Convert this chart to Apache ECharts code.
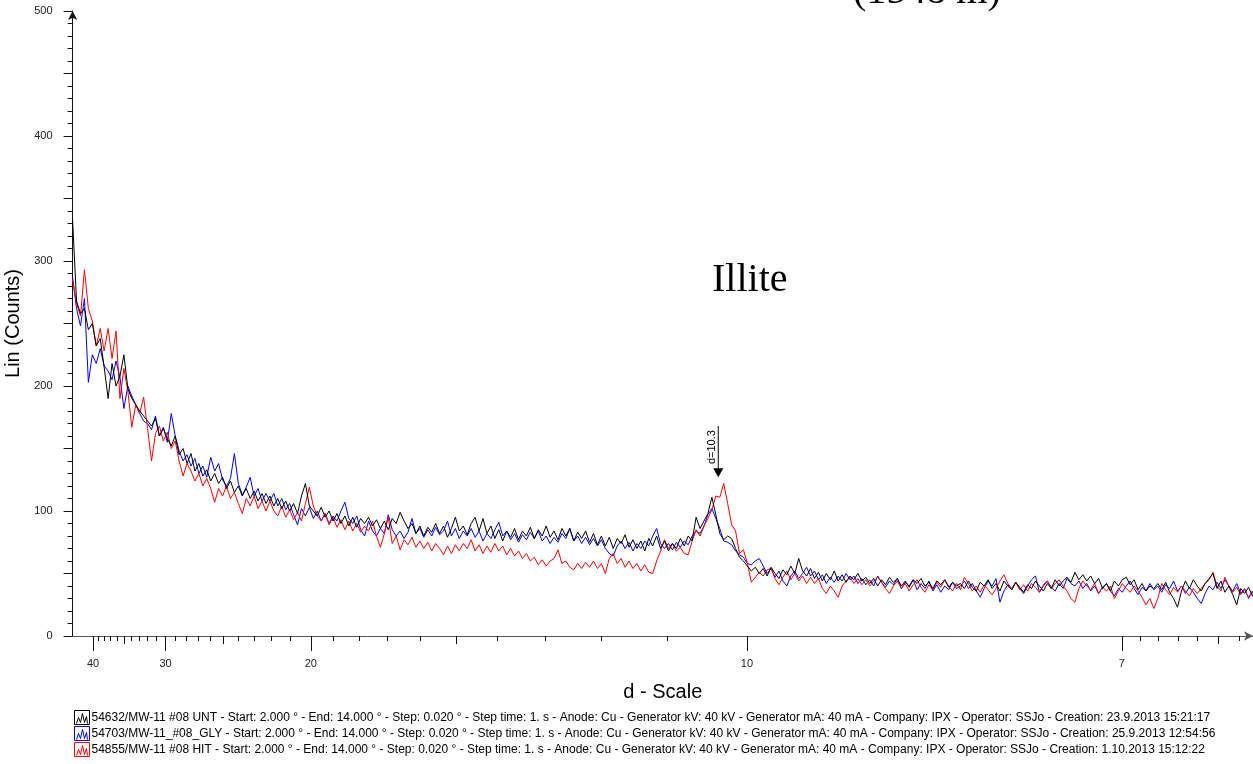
<!DOCTYPE html>
<html>
<head>
<meta charset="utf-8">
<script src="https://cdn.jsdelivr.net/npm/echarts@6/dist/echarts.min.js"></script>
<style>
html, body { margin: 0; padding: 0; background: #fff; }
#xrd { width: 1253px; height: 764px; }
</style>
</head>
<body>
<div id="xrd"></div>
<script>
// scan: 2theta from 2.000, values read every 0.04 deg
const START = 2.0, STEP = 0.04, LAMBDA = 1.5406;

// d-scale ticks (Angstrom)
const majorD = [40, 30, 20, 10, 7];
const mediumD = [35, 25, 15, 6.5];
const minorD = [39, 38, 37, 36, 34, 33, 32, 31, 29, 28, 27, 26, 24, 23, 22, 21,
    19, 18, 17, 16, 14, 13, 12, 11, 6.9, 6.8, 6.7, 6.6, 6.4];

// marked peak (label shows one decimal)
const peakD = 10.34;

const unt = [
    333, 268, 258, 262, 245, 250, 232, 238, 215, 190, 218, 200, 208, 225, 198, 190, 185, 180, 176, 172, 168, 174, 160, 166, 158,
    152, 160, 145, 150, 138, 146, 132, 138, 128, 133, 124, 130, 122, 127, 118, 124, 115, 120, 112, 118, 110, 116, 108, 114, 106,
    112, 104, 110, 102, 108, 100, 106, 98, 112, 122, 104, 100, 96, 103, 95, 100, 92, 98, 90, 96, 88, 95, 87, 94, 90,
    95, 88, 93, 86, 92, 85, 94, 90, 99, 92, 86, 90, 82, 88, 80, 87, 83, 90, 82, 88, 79, 86, 95, 84, 88,
    81, 90, 95, 84, 94, 82, 88, 78, 85, 76, 84, 79, 86, 77, 84, 80, 87, 78, 85, 80, 88, 79, 84, 77, 86,
    80, 86, 76, 83, 78, 84, 75, 82, 73, 80, 72, 79, 70, 78, 74, 81, 71, 77, 70, 76, 68, 78, 72, 80, 70,
    76, 68, 74, 70, 78, 72, 80, 76, 95, 86, 92, 98, 111, 97, 82, 77, 80, 78, 70, 63, 60, 56, 52, 55, 50,
    54, 48, 55, 50, 46, 53, 49, 56, 50, 62, 52, 48, 54, 46, 51, 44, 50, 45, 52, 44, 49, 43, 48, 45, 50,
    44, 47, 42, 46, 40, 45, 41, 47, 43, 46, 40, 44, 39, 45, 42, 46, 40, 43, 38, 44, 41, 45, 39, 43, 40,
    42, 38, 44, 39, 36, 43, 40, 45, 38, 42, 36, 44, 40, 37, 43, 39, 35, 41, 38, 44, 40, 36, 42, 38, 45,
    40, 44, 47, 43, 51, 45, 49, 44, 48, 42, 46, 38, 42, 36, 44, 40, 45, 47, 41, 45, 37, 42, 36, 40, 38,
    42, 37, 43, 35, 30, 23, 36, 44, 38, 45, 40, 36, 42, 46, 50, 38, 44, 35, 40, 33, 25, 38, 34, 39, 32,
    35
];
const gly = [
    287, 262, 248, 270, 203, 225, 218, 230, 216, 212, 205, 220, 207, 182, 200, 192, 185, 178, 172, 170, 165, 176, 160, 167, 155,
    178, 160, 148, 140, 145, 136, 142, 130, 136, 127, 143, 132, 138, 125, 120, 126, 146, 122, 113, 119, 127, 112, 118, 108, 114,
    108, 114, 104, 110, 101, 106, 97, 89, 102, 96, 103, 94, 100, 92, 98, 90, 96, 92, 100, 107, 94, 90, 96, 85, 80,
    92, 84, 80, 86, 82, 97, 85, 80, 84, 78, 83, 94, 82, 86, 79, 85, 80, 87, 81, 84, 92, 80, 86, 78, 84,
    80, 86, 79, 84, 76, 82, 78, 85, 91, 80, 84, 77, 82, 75, 81, 77, 83, 78, 84, 76, 80, 74, 79, 75, 82,
    78, 86, 76, 80, 74, 79, 73, 78, 72, 77, 70, 66, 64, 72, 76, 70, 75, 68, 74, 70, 76, 72, 80, 86, 74,
    70, 74, 69, 75, 71, 76, 73, 80, 84, 82, 88, 97, 102, 94, 86, 76, 75, 73, 68, 65, 63, 58, 57, 60, 62,
    56, 50, 54, 47, 52, 44, 40, 48, 52, 46, 50, 55, 48, 52, 45, 49, 42, 47, 43, 48, 44, 50, 45, 48, 42,
    46, 41, 45, 40, 48, 43, 39, 44, 41, 46, 38, 43, 40, 45, 37, 42, 38, 44, 36, 41, 35, 40, 37, 43, 38,
    40, 44, 38, 42, 36, 31, 38, 44, 40, 46, 27, 36, 41, 37, 43, 38, 34, 40, 45, 48, 35, 40, 44, 39, 36,
    42, 38, 46, 42, 40, 44, 38, 42, 36, 40, 34, 39, 42, 36, 32, 38, 35, 40, 44, 38, 33, 39, 36, 42, 37,
    40, 35, 41, 38, 44, 36, 40, 34, 39, 35, 30, 26, 34, 40, 37, 43, 38, 45, 40, 36, 42, 34, 38, 30, 36,
    21
];
const hit = [
    285, 266, 256, 293, 262, 252, 232, 246, 228, 246, 222, 244, 190, 214, 196, 167, 185, 178, 191, 166, 140, 162, 168, 156, 163,
    150, 156, 140, 128, 138, 132, 124, 130, 120, 126, 118, 107, 118, 112, 120, 110, 115, 106, 98, 110, 104, 112, 102, 108, 100,
    108, 100, 96, 104, 95, 101, 93, 99, 92, 106, 119, 104, 96, 92, 98, 89, 95, 87, 93, 85, 92, 84, 90, 83, 88,
    84, 92, 80, 71, 82, 95, 74, 80, 69, 77, 73, 79, 71, 76, 70, 75, 68, 74, 70, 65, 72, 66, 73, 68, 74,
    70, 77, 68, 73, 66, 72, 67, 74, 68, 72, 65, 70, 64, 68, 62, 66, 60, 63, 57, 61, 56, 60, 62, 69, 58,
    60, 55, 53, 58, 54, 59, 55, 60, 54, 58, 50, 62, 66, 58, 62, 55, 60, 54, 58, 52, 57, 51, 50, 60, 68,
    77, 70, 74, 68, 71, 66, 65, 76, 85, 80, 88, 94, 101, 112, 111, 122, 106, 89, 84, 66, 69, 58, 43, 47, 51,
    48, 53, 54, 46, 41, 47, 52, 45, 50, 44, 48, 42, 47, 42, 46, 38, 34, 40, 36, 31, 40, 44, 47, 42, 46,
    41, 45, 40, 44, 47, 43, 38, 34, 40, 44, 38, 42, 36, 41, 45, 39, 35, 41, 37, 43, 39, 45, 40, 36, 42,
    37, 47, 42, 36, 40, 35, 41, 37, 33, 38, 44, 49, 42, 38, 43, 37, 41, 36, 42, 39, 35, 41, 44, 38, 42,
    45, 40, 36, 30, 27, 38, 44, 40, 37, 42, 34, 39, 36, 40, 30, 36, 42, 38, 35, 40, 36, 31, 25, 30, 22,
    30, 42, 37, 33, 39, 35, 40, 36, 32, 38, 34, 38, 42, 45, 51, 40, 36, 47, 40, 35, 39, 33, 37, 31, 36,
    32
];

const names = [
    '54632/MW-11 #08 UNT - Start: 2.000 ° - End: 14.000 ° - Step: 0.020 ° - Step time: 1. s - Anode: Cu - Generator kV: 40 kV - Generator mA: 40 mA - Company: IPX - Operator: SSJo - Creation: 23.9.2013 15:21:17',
    '54703/MW-11_#08_GLY - Start: 2.000 ° - End: 14.000 ° - Step: 0.020 ° - Step time: 1. s - Anode: Cu - Generator kV: 40 kV - Generator mA: 40 mA - Company: IPX - Operator: SSJo - Creation: 25.9.2013 12:54:56',
    '54855/MW-11 #08 HIT - Start: 2.000 ° - End: 14.000 ° - Step: 0.020 ° - Step time: 1. s - Anode: Cu - Generator kV: 40 kV - Generator mA: 40 mA - Company: IPX - Operator: SSJo - Creation: 1.10.2013 15:12:22'
];
const colors = ['#000000', '#0000ff', '#ff0000'];

const FONT = 'Liberation Sans, Arial, sans-serif';
const SERIF = 'Liberation Serif, Times New Roman, serif';

// Bragg: d <-> 2theta
function twoTheta(d) { return 2 * Math.asin(LAMBDA / (2 * d)) * 180 / Math.PI; }
function dOf(tt) { return LAMBDA / (2 * Math.sin(tt * Math.PI / 360)); }
function toPairs(vals) { return vals.map((v, i) => [START + i * STEP, v]); }

function tickAxis(ds, len, main) {
    return {
        type: 'value',
        gridIndex: 0,
        position: 'bottom',
        min: 2,
        max: 13.965,
        name: main ? 'd - Scale' : '',
        nameLocation: 'middle',
        nameGap: 46,
        nameTextStyle: { fontSize: 20, color: '#000', fontFamily: FONT },
        axisLine: {
            show: main,
            symbol: ['none', 'arrow'],
            symbolSize: [7, 9],
            lineStyle: { color: '#555', width: 1 }
        },
        axisTick: {
            show: true,
            length: len,
            customValues: ds.map(twoTheta),
            lineStyle: { color: '#111', width: 1 }
        },
        axisLabel: {
            show: main,
            customValues: ds.map(twoTheta),
            formatter: v => String(Math.round(dOf(v))),
            margin: 22,
            fontSize: 11,
            color: '#222',
            fontFamily: FONT
        },
        splitLine: { show: false }
    };
}

let chart = echarts.init(document.getElementById('xrd'));

let option = {
    animation: false,
    backgroundColor: '#fff',
    grid: { left: 72.6, right: 0, top: 11, bottom: 128, outerBoundsMode: 'none', containLabel: false },
    xAxis: [
        tickAxis(majorD, 15, true),
        tickAxis(mediumD, 8, false),
        tickAxis(minorD, 5, false)
    ],
    yAxis: {
        type: 'value',
        min: 0,
        max: 500,
        interval: 50,
        name: 'Lin (Counts)',
        nameLocation: 'middle',
        nameGap: 36,
        nameTextStyle: { fontSize: 20, color: '#000', fontFamily: FONT },
        axisLine: {
            show: true,
            symbol: ['none', 'arrow'],
            symbolSize: [7, 9],
            lineStyle: { color: '#111', width: 1 }
        },
        axisTick: { show: true, length: 9, lineStyle: { color: '#111' } },
        minorTick: { show: true, splitNumber: 5, length: 5, lineStyle: { color: '#111' } },
        axisLabel: {
            margin: 20,
            fontSize: 11,
            color: '#222',
            fontFamily: FONT,
            formatter: v => (v % 100 === 0 ? String(v) : '')
        },
        splitLine: { show: false }
    },
    legend: {
        orient: 'vertical',
        left: 74,
        top: 710,
        padding: 0,
        itemGap: 1,
        itemWidth: 15,
        itemHeight: 14,
        height: 60,
        selectedMode: false,
        icon: 'path://M0,0H15V14H0Z M2,13L4,7L6,12L8,3L10,12L12,6L13,13',
        textStyle: { fontSize: 12, lineHeight: 14, color: '#000', fontFamily: FONT, padding: [0, 0, 0, -3] },
        data: names.map((n, i) => ({
            name: n,
            itemStyle: { color: 'rgba(0,0,0,0)', borderColor: colors[i], borderWidth: 1 }
        }))
    },
    // drawn blue, red, then black on top
    series: [
        { name: names[1], data: toPairs(gly), color: colors[1] },
        { name: names[2], data: toPairs(hit), color: colors[2] },
        { name: names[0], data: toPairs(unt), color: colors[0] }
    ].map(s => Object.assign({
        type: 'line',
        showSymbol: false,
        symbol: 'none',
        lineStyle: { width: 1, color: s.color },
        itemStyle: { color: s.color }
    }, s))
};

chart.setOption(option);

// peak marker
let px = chart.convertToPixel({ xAxisIndex: 0, yAxisIndex: 0 }, [twoTheta(peakD), 127]);
let pTop = chart.convertToPixel({ xAxisIndex: 0, yAxisIndex: 0 }, [twoTheta(peakD), 168]);

chart.setOption({
    graphic: [
        {
            type: 'line',
            shape: { x1: px[0], y1: pTop[1], x2: px[0], y2: px[1] - 8 },
            style: { stroke: '#000', lineWidth: 1 }
        },
        {
            type: 'polygon',
            shape: { points: [[px[0] - 5, px[1] - 9], [px[0] + 5, px[1] - 9], [px[0], px[1]]] },
            style: { fill: '#000' }
        },
        {
            type: 'text',
            x: px[0] - 6,
            y: (pTop[1] + px[1] - 9) / 2,
            rotation: Math.PI / 2,
            style: {
                text: 'd=' + peakD.toFixed(1),
                font: '11px ' + FONT,
                fill: '#000',
                align: 'center', verticalAlign: 'middle',
                textAlign: 'center', textVerticalAlign: 'middle'
            }
        },
        {
            type: 'text',
            x: 712,
            y: 280,
            style: {
                text: 'Illite',
                font: '40px ' + SERIF,
                fill: '#000',
                align: 'left', verticalAlign: 'middle',
                textAlign: 'left', textVerticalAlign: 'middle'
            }
        },
        {
            type: 'text',
            x: 853,
            y: -8,
            style: {
                text: '(1548 m)',
                font: '40px ' + SERIF,
                fill: '#000',
                align: 'left', verticalAlign: 'middle',
                textAlign: 'left', textVerticalAlign: 'middle'
            }
        }
    ]
});
</script>
</body>
</html>
